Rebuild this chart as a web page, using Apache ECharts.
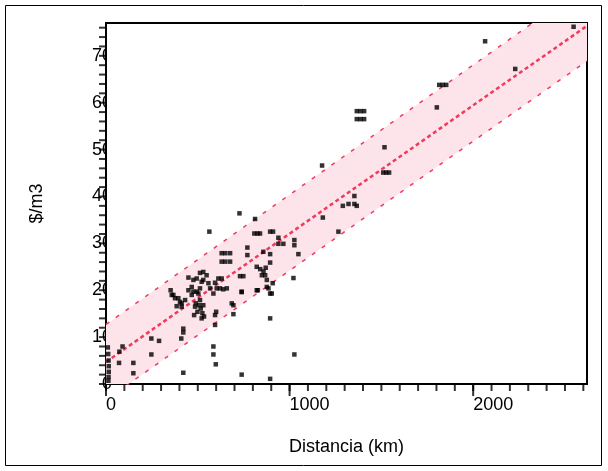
<!DOCTYPE html>
<html>
<head>
<meta charset="utf-8">
<script src="https://cdn.jsdelivr.net/npm/echarts@6/dist/echarts.min.js"></script>
<style>html,body{margin:0;padding:0;background:#fff}#c{width:608px;height:471px}</style>
</head>
<body>
<div id="c"></div>
<script>
// observed points: distance (km), cost ($/m3)
const distKm = [10,12,14,15,15,14,13, 73,90,71, 149,149, 247,289,247, 421,421,410,421, 585,585,598, 594,594,600,
  739,894,1026, 694,894, 685,694, 739,894,876,876,908,885,
  352,358,367,376,394,403,385,412,412,431, 449,467,467,494,512,530,485,
  489,507,516,498,525,534,480, 449,476,494,512,530,530,521,548,558,594,612,630,603,585,621,658,
  512,567,639,476,503,521,
  563,727, 630,650,676,630,650,676, 770,770, 730,748,739,827,
  812,808,825,839,894,910, 939,939,966,1026,1026,1048, 894,894,857,
  821,840,858,870,849,867, 903,1021,821,
  1177,1181,1266, 1290,1321,1353,1366,1353,
  1366,1386,1406,1366,1386,1406, 1517,1510,1526,1542,
  1802,1815,1834,1853, 2065,2229,2547];
const costM3 = [7.8,6.4,5.0,3.8,2.6,1.5,0.7, 6.9,8.0,4.5, 4.5,2.3, 9.7,9.2,6.3, 11.8,11.0,9.7,2.4, 8.0,6.3,4.2, 12.6,14.7,15.4,
  2.0,1.1,6.3, 14.9,14.0, 17.2,16.8, 19.6,19.3,20.7,22.2,21.5,20.4,
  20.0,19.0,19.0,18.3,18.3,17.5,16.6,16.5,17.2,17.9, 20.0,20.7,19.0,19.7,17.9,16.8,16.5,
  17.2,16.8,16.1,15.4,15.1,14.4,14.7, 22.7,22.2,22.5,23.7,23.9,22.2,21.8,23.2,21.5,21.6,22.5,22.5,20.4,19.3,20.4,20.4,
  20.4,20.4,20.2,19.7,19.3,14.0,
  32.5,36.4, 27.9,27.9,27.9,26.1,26.1,26.1, 29.1,27.5, 23.0,23.0,19.7,20.0,
  35.2,32.1,32.1,32.1,32.5,32.5, 31.2,29.9,29.9,30.7,29.6,27.7, 27.7,25.9,28.2,
  25.0,24.5,24.0,24.8,23.2,23.2, 19.3,22.6,20.0,
  46.6,35.5,32.5, 38.0,38.4,38.4,38.0,40.1,
  58.2,58.2,58.2,56.5,56.5,56.5, 50.5,45.1,45.1,45.1,
  59.0,63.8,63.8,63.8, 73.1,67.2,76.2];

// fitted line and prediction band, read at the two ends of the x range
const fitX = [0, 2620];
const fitY = [4.7, 76.4];
const upperY = [12.7, 85.2];
const lowerY = [-3.4, 68.9];

// tick labels and tick marks
const xTickLabels = [0, 1000, 2000];
const yTickLabels = [0, 10, 20, 30, 40, 50, 60, 70];
const xMinorTicks = []; for (let v = 0; v <= 2600; v += 100) xMinorTicks.push(v);
const yMinorTicks = []; for (let v = 0; v <= 76; v += 2) yMinorTicks.push(v);

const RED = '#ef3b5e';
const FONT = 'Liberation Sans, Arial, sans-serif';

const chart = echarts.init(document.getElementById('c'), null, {renderer: 'canvas'});
const pairs = (xs, ys) => xs.map((x, i) => [x, ys[i]]);

// tick marks drawn as scatter markers anchored on the axes
function xTicks(values, len) {
  return {type: 'scatter', z: 6, clip: false, silent: true, symbol: 'rect',
    symbolSize: [2, len], symbolOffset: [0, len / 2],
    itemStyle: {color: '#000'}, data: values.map(v => [v, 0])};
}
function yTicks(values, len) {
  return {type: 'scatter', z: 6, clip: false, silent: true, symbol: 'rect',
    symbolSize: [len, 2], symbolOffset: [-len / 2, 0],
    itemStyle: {color: '#000'}, data: values.map(v => [0, v])};
}

chart.setOption({
  animation: false,
  backgroundColor: '#fff',
  grid: {left: 106, top: 23, width: 481, height: 361, containLabel: false},
  xAxis: {
    type: 'value', min: 0, max: 2620,
    name: 'Distancia (km)', nameLocation: 'middle', nameGap: 54,
    nameTextStyle: {fontSize: 18, color: '#000', fontFamily: FONT},
    axisLine: {show: true, onZero: false, lineStyle: {color: '#000', width: 2}},
    axisTick: {show: false},
    axisLabel: {customValues: xTickLabels, align: 'left', margin: 12, fontSize: 18, color: '#000',
      fontFamily: FONT, formatter: v => String(v)},
    splitLine: {show: false}
  },
  yAxis: {
    type: 'value', min: 0, max: 77,
    name: '$/m3', nameLocation: 'middle', nameGap: 60,
    nameTextStyle: {fontSize: 18, color: '#000', fontFamily: FONT},
    axisLine: {show: true, onZero: false, lineStyle: {color: '#000', width: 2}},
    axisTick: {show: false},
    axisLabel: {customValues: yTickLabels, margin: -6, fontSize: 18, color: '#000', fontFamily: FONT,
      padding: [4, 0, 0, 0], formatter: v => String(v)},
    splitLine: {show: false}
  },
  graphic: [
    {type: 'rect', z: 0, silent: true, shape: {x: 5.5, y: 5.5, width: 596, height: 460},
     style: {fill: null, stroke: '#000', lineWidth: 1}},
    {type: 'rect', z: 1, silent: true, shape: {x: 106, y: 23, width: 481, height: 361},
     style: {fill: '#fff', stroke: '#000', lineWidth: 2}}
  ],
  series: [
    {
      type: 'custom', z: 2, clip: true, silent: true,
      data: [[fitX[0], fitY[0]]],
      renderItem: function (params, api) {
        const pts = [
          api.coord([fitX[0], upperY[0]]), api.coord([fitX[1], upperY[1]]),
          api.coord([fitX[1], lowerY[1]]), api.coord([fitX[0], lowerY[0]])
        ];
        return {type: 'polygon', shape: {points: pts}, style: {fill: '#fce4ea'}};
      }
    },
    {type: 'line', z: 3, data: pairs(fitX, upperY), symbol: 'none', silent: true,
     lineStyle: {color: RED, width: 1.5, type: [4, 8]}},
    {type: 'line', z: 3, data: pairs(fitX, lowerY), symbol: 'none', silent: true,
     lineStyle: {color: RED, width: 1.5, type: [4, 8]}},
    {type: 'line', z: 3, data: pairs(fitX, fitY), symbol: 'none', silent: true,
     lineStyle: {color: RED, width: 2.5, type: [4, 3]}},
    {type: 'scatter', z: 4, data: pairs(distKm, costM3), symbol: 'rect', symbolSize: 4.5,
     itemStyle: {color: '#000'}, silent: true},
    xTicks(xMinorTicks, 7),
    xTicks(xTickLabels, 12),
    yTicks(yMinorTicks, 7)
  ]
});
</script>
</body>
</html>
